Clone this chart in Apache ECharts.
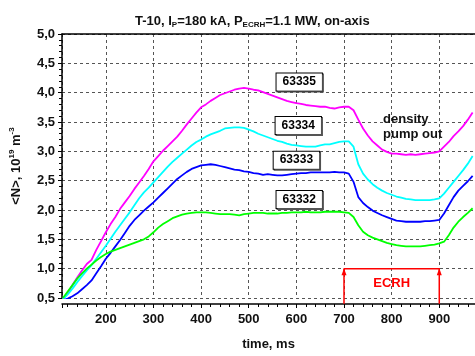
<!DOCTYPE html>
<html>
<head>
<meta charset="utf-8">
<script src="https://cdn.jsdelivr.net/npm/echarts@6/dist/echarts.min.js"></script>
<style>
  html, body { margin: 0; padding: 0; background: #fff; }
  #chart { width: 475px; height: 356px; }
</style>
</head>
<body>
<div id="chart"></div>
<script>
// time base, ms
const time = [
  110, 120, 130, 140, 150, 160, 170, 180, 190, 200,
  210, 220, 230, 240, 250, 260, 270, 280, 290, 300,
  310, 320, 330, 340, 350, 360, 370, 380, 390, 400,
  410, 420, 430, 440, 450, 460, 470, 480, 490, 500,
  510, 520, 530, 540, 550, 560, 570, 580, 590, 600,
  610, 620, 630, 640, 650, 660, 670, 680, 690, 700,
  710, 720, 730, 740, 750, 760, 770, 780, 790, 800,
  810, 820, 830, 840, 850, 860, 870, 880, 890, 900,
  910, 920, 930, 940, 950, 960, 970
];

// line-averaged density, 10^19 m^-3
const n63335 = [
  0.48, 0.58, 0.72, 0.85, 0.97, 1.08, 1.15, 1.32, 1.47, 1.62,
  1.76, 1.88, 2.02, 2.13, 2.24, 2.36, 2.47, 2.58, 2.70, 2.83,
  2.92, 3.01, 3.09, 3.17, 3.25, 3.35, 3.46, 3.56, 3.66, 3.75,
  3.80, 3.86, 3.91, 3.96, 3.99, 4.02, 4.05, 4.07, 4.08, 4.07,
  4.05, 4.04, 4.01, 3.98, 3.95, 3.92, 3.89, 3.86, 3.84, 3.82,
  3.81, 3.79, 3.78, 3.77, 3.76, 3.76, 3.74, 3.73, 3.75, 3.76,
  3.76, 3.70, 3.54, 3.39, 3.27, 3.17, 3.10, 3.03, 2.99, 2.96,
  2.96, 2.95, 2.94, 2.95, 2.94, 2.95, 2.96, 2.97, 2.98, 3.00,
  3.08, 3.16, 3.26, 3.34, 3.43, 3.54, 3.66
];
const n63334 = [
  0.48, 0.56, 0.66, 0.77, 0.87, 0.97, 1.06, 1.17, 1.28, 1.39,
  1.51, 1.63, 1.74, 1.85, 1.96, 2.08, 2.20, 2.30, 2.38, 2.47,
  2.56, 2.65, 2.74, 2.82, 2.89, 2.96, 3.03, 3.10, 3.16, 3.20,
  3.25, 3.29, 3.32, 3.35, 3.39, 3.40, 3.41, 3.41, 3.40, 3.37,
  3.34, 3.30, 3.27, 3.24, 3.21, 3.18, 3.16, 3.13, 3.11, 3.10,
  3.09, 3.08, 3.08, 3.08, 3.10, 3.12, 3.12, 3.14, 3.16, 3.17,
  3.17, 3.08, 2.78, 2.62, 2.52, 2.44, 2.38, 2.33, 2.29, 2.26,
  2.23, 2.21, 2.19, 2.18, 2.17, 2.17, 2.17, 2.17, 2.18, 2.20,
  2.28, 2.38, 2.48, 2.58, 2.68, 2.79, 2.92
];
const n63333 = [
  0.46, 0.49, 0.53, 0.58, 0.65, 0.72, 0.80, 0.92, 1.04, 1.17,
  1.27, 1.38, 1.49, 1.61, 1.73, 1.83, 1.91, 1.99, 2.06, 2.13,
  2.21, 2.29, 2.37, 2.45, 2.53, 2.59, 2.65, 2.70, 2.73, 2.76,
  2.77, 2.78, 2.77, 2.75, 2.73, 2.71, 2.69, 2.68, 2.66, 2.65,
  2.63, 2.62, 2.60, 2.61, 2.60, 2.59, 2.59, 2.60, 2.61, 2.62,
  2.63, 2.63, 2.64, 2.64, 2.64, 2.64, 2.64, 2.65, 2.64, 2.64,
  2.62, 2.48, 2.22, 2.12, 2.05, 1.99, 1.95, 1.91, 1.88, 1.85,
  1.82, 1.81, 1.80, 1.80, 1.80, 1.80, 1.81, 1.81, 1.82, 1.83,
  1.94, 2.08, 2.22, 2.33, 2.41, 2.49, 2.58
];
const n63332 = [
  0.50, 0.61, 0.72, 0.83, 0.92, 1.00, 1.07, 1.14, 1.20, 1.25,
  1.29, 1.32, 1.35, 1.38, 1.41, 1.44, 1.47, 1.50, 1.55, 1.62,
  1.70, 1.76, 1.81, 1.86, 1.89, 1.92, 1.94, 1.95, 1.96, 1.96,
  1.96, 1.95, 1.94, 1.93, 1.93, 1.93, 1.92, 1.91, 1.93, 1.94,
  1.95, 1.95, 1.95, 1.94, 1.94, 1.94, 1.95, 1.95, 1.96, 1.96,
  1.96, 1.97, 1.96, 1.96, 1.96, 1.97, 1.97, 1.97, 1.97, 1.96,
  1.95, 1.88, 1.74, 1.63, 1.57, 1.53, 1.50, 1.47, 1.44, 1.42,
  1.40, 1.39, 1.38, 1.38, 1.38, 1.38, 1.39, 1.40, 1.41, 1.43,
  1.46, 1.57, 1.70, 1.80, 1.88, 1.95, 2.03
];

const shots = ["63335", "63334", "63333", "63332"];
const shotColors = ["#ff00ff", "#00ffff", "#0000ff", "#00ff00"];
// where the shot number boxes sit [time, density]
const shotLabelPos = [[606, 4.18], [604, 3.44], [600, 2.85], [606, 2.18]];

// ECRH pulse window
const ecrhStart = 700;
const ecrhEnd = 900;
const ecrhLevel = 1.0;
const ecrhBase = 0.4;

const FONT = "Liberation Sans";

const chart = echarts.init(document.getElementById("chart"), null, { renderer: "canvas" });

const densities = [n63335, n63334, n63333, n63332];

const series = densities.map((vals, i) => ({
  name: shots[i],
  type: "line",
  data: time.map((t, k) => [t, vals[k]]),
  symbol: "none",
  lineStyle: { color: shotColors[i], width: 1.8 },
  z: 3,
  markPoint: {
    symbol: "rect",
    symbolSize: 0,
    silent: true,
    data: [{ coord: shotLabelPos[i] }],
    label: {
      show: true,
      formatter: shots[i],
      color: "#000",
      fontFamily: FONT,
      fontWeight: "bold",
      fontSize: 12,
      backgroundColor: "#fff",
      borderColor: "#000",
      borderWidth: 1,
      padding: [3, 6, 2, 6],
      shadowColor: "#555",
      shadowOffsetX: 1,
      shadowOffsetY: 1,
    },
  },
}));

series.push({
  name: "ECRH",
  type: "line",
  clip: false,
  symbol: "none",
  lineStyle: { color: "#ff0000", width: 1.5 },
  data: [
    [ecrhStart, ecrhBase],
    { value: [ecrhStart, ecrhLevel], symbol: "triangle", symbolSize: [5, 7], symbolOffset: [0, 3], itemStyle: { color: "#ff0000" } },
    [ecrhEnd, ecrhLevel],
    { value: [ecrhEnd, ecrhLevel], symbol: "triangle", symbolSize: [5, 7], symbolOffset: [0, 3], itemStyle: { color: "#ff0000" } },
    [ecrhEnd, ecrhBase],
  ],
  markPoint: {
    symbol: "rect",
    symbolSize: 0,
    silent: true,
    data: [
      { coord: [800, 0.745], label: { formatter: "ECRH", color: "#ff0000", fontSize: 13 } },
      { coord: [782, 3.42], label: { formatter: "density\npump out", color: "#111", fontSize: 13, position: "right", distance: 0, align: "left", lineHeight: 15 } },
    ],
    label: { show: true, fontFamily: FONT, fontWeight: "bold" },
  },
});

chart.setOption({
  animation: false,
  backgroundColor: "#fff",
  title: {
    text: "T-10, I{sub|P}=180 kA, P{sub|ECRH}=1.1 MW, on-axis",
    left: 130,
    top: 9,
    textStyle: {
      fontFamily: FONT,
      fontWeight: "bold",
      fontSize: 13,
      color: "#111",
      rich: {
        sub: { fontFamily: FONT, fontWeight: "bold", fontSize: 8, color: "#111", padding: [7, 0, 0, 0] },
      },
    },
  },
  grid: { left: 62, right: 0, top: 34, bottom: 57 },
  xAxis: [
    {
      type: "value",
      min: 108,
      max: 975,
      splitNumber: 8,
      offset: 6,
      name: "time, ms",
      nameLocation: "middle",
      nameGap: 34,
      nameTextStyle: { fontFamily: FONT, fontWeight: "bold", fontSize: 13, color: "#111" },
      axisLine: { lineStyle: { color: "#000", width: 1.5 } },
      axisTick: { length: 4, lineStyle: { color: "#000" } },
      minorTick: { show: true, splitNumber: 5, length: 3, lineStyle: { color: "#000" } },
      axisLabel: {
        showMinLabel: false,
        showMaxLabel: false,
        margin: 9,
        fontFamily: FONT,
        fontWeight: "bold",
        fontSize: 13,
        color: "#111",
      },
      splitLine: { show: true, lineStyle: { color: "#555", type: [3, 3], width: 1 } },
    },
    {
      type: "value",
      position: "top",
      min: 108,
      max: 975,
      axisLine: { show: true, lineStyle: { color: "#000", width: 1.5 } },
      axisTick: { show: false },
      axisLabel: { show: false },
      splitLine: { show: false },
    },
  ],
  yAxis: {
    type: "value",
    min: 0.5,
    max: 5.0,
    interval: 0.5,
    name: "<N>, 10{sup|19} m{sup|-3}",
    nameLocation: "middle",
    nameGap: 38,
    nameTextStyle: {
      fontFamily: FONT,
      fontWeight: "bold",
      fontSize: 13,
      color: "#111",
      rich: {
        sup: { fontFamily: FONT, fontWeight: "bold", fontSize: 8, color: "#111", padding: [0, 0, 8, 0] },
      },
    },
    axisLine: { show: true, lineStyle: { color: "#000", width: 1.5 } },
    axisTick: { length: 4, lineStyle: { color: "#000" } },
    minorTick: { show: true, splitNumber: 5, length: 3, lineStyle: { color: "#000" } },
    axisLabel: {
      margin: 7,
      fontFamily: FONT,
      fontWeight: "bold",
      fontSize: 13,
      color: "#111",
      formatter: (v) => v.toFixed(1).replace(".", ","),
    },
    splitLine: { show: true, lineStyle: { color: "#555", type: [3, 3], width: 1 } },
  },
  series: series,
});
</script>
</body>
</html>
